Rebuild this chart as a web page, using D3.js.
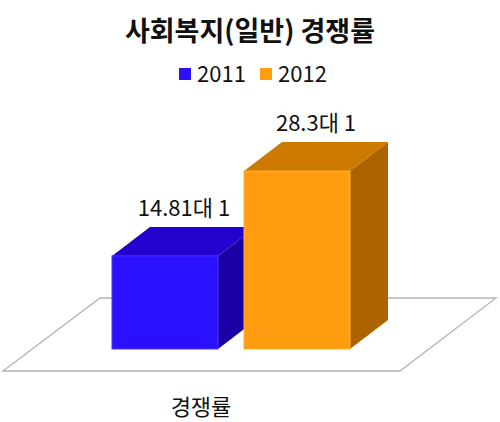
<!DOCTYPE html>
<html>
<head>
<meta charset="utf-8">
<script src="https://cdn.jsdelivr.net/npm/d3@7"></script>
<style>
 body { margin: 0; background: #fff; }
 text { font-family: "Noto Sans CJK KR", "Noto Sans", sans-serif; fill: #111; }
</style>
</head>
<body>
<svg width="500" height="422"></svg>
<script>
// Data.

var category = '경쟁률';
var years = ['2011', '2012'];
var rates = [14.81, 28.3];
var labels = ['14.81대 1', '28.3대 1'];

var svg = d3.select('svg');
var baseY = 349;
var depth = {dx: 38, dy: -29};

// Colours per face: front, top, side.
var faces = {
 '2011': {front: '#2b10ff', top: '#2202cc', side: '#1b00a6', edge: '#4a3aff'},
 '2012': {front: '#ff9c10', top: '#cc7a00', side: '#ab6400', edge: '#ffb030'}
};

var x = d3.scaleBand()
 .domain(years)
 .range([112, 350])
 .paddingInner(0.197);

var y = d3.scaleLinear()
 .domain([0, 30])
 .range([baseY, baseY - 188.6]);

// Title and legend.

svg.append('text')
 .attr('x', 250).attr('y', 41)
 .attr('text-anchor', 'middle')
 .style('font-size', '27px').style('font-weight', 'bold')
 .text('사회복지(일반) 경쟁률');

var legend = svg.append('g').selectAll('g')
 .data(years)
 .enter().append('g')
 .attr('transform', function(d, i) { return 'translate(' + (179 + i * 81) + ',68)'; });

legend.append('rect')
 .attr('width', 12).attr('height', 12)
 .attr('fill', function(d) { return faces[d].front; });

legend.append('text')
 .attr('x', 18).attr('y', 13.5)
 .style('font-size', '22px')
 .text(function(d) { return d; });

// Floor.

svg.append('path')
 .attr('d', 'M3,371 L100,298 L496,298 L400,371 Z')
 .attr('fill', 'none')
 .attr('stroke', '#b4b4b4')
 .attr('stroke-width', 1.3);

// Bars: side, top, front.

var bars = svg.append('g').selectAll('g')
 .data(years.map(function(d, i) { return {year: d, value: rates[i], label: labels[i]}; }))
 .enter().append('g');

function pts(list) { return list.map(function(p) { return p.join(','); }).join(' '); }

bars.append('polygon')
 .attr('fill', function(d) { return faces[d.year].side; })
 .attr('points', function(d) {
  var x1 = x(d.year) + x.bandwidth(), y0 = y(0), y1 = y(d.value);
  return pts([[x1, y1], [x1 + depth.dx, y1 + depth.dy], [x1 + depth.dx, y0 + depth.dy], [x1, y0]]);
 });

bars.append('polygon')
 .attr('fill', function(d) { return faces[d.year].top; })
 .attr('points', function(d) {
  var x0 = x(d.year), x1 = x0 + x.bandwidth(), y1 = y(d.value);
  return pts([[x0, y1], [x0 + depth.dx, y1 + depth.dy], [x1 + depth.dx, y1 + depth.dy], [x1, y1]]);
 });

bars.append('rect')
 .attr('x', function(d) { return x(d.year); })
 .attr('y', function(d) { return y(d.value); })
 .attr('width', x.bandwidth())
 .attr('height', function(d) { return y(0) - y(d.value); })
 .attr('fill', function(d) { return faces[d.year].front; })
 .attr('stroke', function(d) { return faces[d.year].edge; })
 .attr('stroke-width', 1);

bars.append('text')
 .attr('x', function(d) { return x(d.year) + x.bandwidth() / 2 + depth.dx / 2; })
 .attr('y', function(d) { return y(d.value) + depth.dy - 11; })
 .attr('text-anchor', 'middle')
 .style('font-size', '22px')
 .text(function(d) { return d.label; });

// Category label.

svg.append('text')
 .attr('x', 201).attr('y', 415)
 .attr('text-anchor', 'middle')
 .style('font-size', '22px')
 .text(category);
</script>
</body>
</html>
